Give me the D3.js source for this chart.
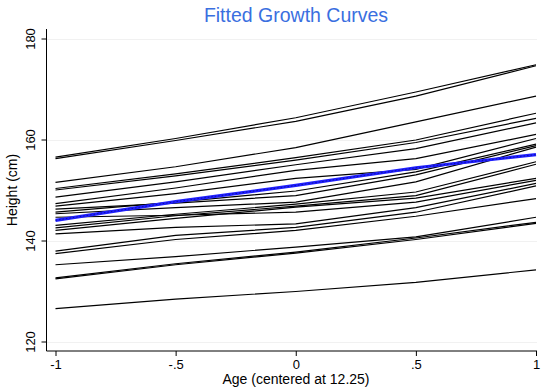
<!DOCTYPE html>
<html>
<head>
<meta charset="utf-8">
<script src="https://cdn.jsdelivr.net/npm/d3@7"></script>
<style>
  body { margin: 0; background: #fff; }
  svg { display: block; font-family: "Liberation Sans", Arial, sans-serif; }
</style>
</head>
<body>
<div id="chart-area"></div>
<script>
// ages (centered at 12.25) where each fitted curve is read
var ages = [-1, -0.5, 0, 0.5, 1];

var xTicks = [-1, -0.5, 0, 0.5, 1];
var xTickLabels = ["-1", "-.5", "0", ".5", "1"];
var yTicks = [120, 140, 160, 180];

// fitted height (cm) per child, one row per curve
var childHeights = [
  [156.5, 160.2, 164.3, 169.4, 174.8],
  [156.2, 159.8, 163.6, 168.6, 174.6],
  [151.5, 154.6, 158.4, 163.5, 168.6],
  [150.3, 153.2, 156.4, 159.9, 165.2],
  [150.0, 152.8, 155.9, 159.4, 164.2],
  [148.6, 151.6, 155.0, 158.2, 163.3],
  [147.3, 150.4, 153.9, 156.2, 161.0],
  [146.8, 149.3, 152.3, 154.1, 160.2],
  [145.6, 147.6, 149.8, 153.6, 159.1],
  [146.2, 147.4, 148.9, 153.0, 158.8],
  [145.3, 146.5, 147.6, 151.6, 158.5],
  [143.0, 145.2, 147.2, 149.6, 155.6],
  [142.5, 144.9, 146.8, 148.9, 155.1],
  [142.0, 144.4, 146.6, 148.4, 152.3],
  [144.6, 145.0, 145.6, 147.6, 151.9],
  [141.3, 142.6, 143.3, 146.5, 151.3],
  [137.9, 141.0, 142.6, 145.6, 150.8],
  [137.4, 140.2, 142.0, 144.8, 148.3],
  [135.2, 136.8, 138.7, 140.7, 144.6],
  [132.6, 135.4, 137.7, 140.5, 143.6],
  [132.4, 135.2, 137.5, 140.2, 143.4],
  [126.5, 128.4, 129.9, 131.7, 134.2]
];

// average curve
var meanHeights = [144.0, 147.7, 150.9, 154.4, 157.0];

var width = 542, height = 387;

var svg = d3.select("#chart-area")
  .append("svg")
    .attr("width", width)
    .attr("height", height);

var x = d3.scaleLinear().domain([-1, 1]).range([55.5, 536]);
var y = d3.scaleLinear().domain([120, 180]).range([341.5, 38.5]);

var axisLeftX = 46.5, axisBottomY = 351;

// faint grid
svg.append("g")
  .selectAll("line")
  .data(yTicks)
  .enter().append("line")
    .attr("x1", axisLeftX)
    .attr("x2", 537)
    .attr("y1", function(d){ return Math.round(y(d)) + 0.5 })
    .attr("y2", function(d){ return Math.round(y(d)) + 0.5 })
    .attr("stroke", "#f1f1f1")
    .attr("stroke-width", 1);

// Y axis
var yAxis = d3.axisLeft(y)
  .tickValues(yTicks)
  .tickSize(5)
  .tickFormat(d3.format("d"));

var yG = svg.append("g")
  .attr("transform", "translate(" + axisLeftX + ",0)")
  .call(yAxis);
yG.select(".domain").attr("d", "M0," + 29 + "V" + axisBottomY);
// rotated tick labels, baseline 12px left of the axis
yG.selectAll("text")
  .attr("x", 0)
  .attr("y", -12)
  .attr("dy", 0)
  .attr("transform", "rotate(-90)")
  .attr("text-anchor", "middle")
  .attr("font-size", "13px")
  .attr("fill", "#000");

// X axis
var xAxis = d3.axisBottom(x)
  .tickValues(xTicks)
  .tickSize(5)
  .tickPadding(4)
  .tickFormat(function(d, i){ return xTickLabels[i] });

var xG = svg.append("g")
  .attr("transform", "translate(0," + axisBottomY + ")")
  .call(xAxis);
xG.select(".domain").attr("d", "M" + axisLeftX + ",0H" + 537);
xG.selectAll("text")
  .attr("font-size", "13px")
  .attr("fill", "#000");

svg.selectAll(".domain, .tick line")
  .attr("stroke", "#000")
  .attr("stroke-width", 1);

// curves
var line = d3.line()
  .x(function(d, i){ return x(ages[i]) })
  .y(function(d){ return y(d) });

svg.append("g")
  .selectAll("path")
  .data(childHeights)
  .enter().append("path")
    .attr("d", line)
    .attr("fill", "none")
    .attr("stroke", "#000")
    .attr("stroke-width", 1.2);

svg.append("path")
  .attr("d", line(meanHeights))
  .attr("fill", "none")
  .attr("stroke", "#1f1fff")
  .attr("stroke-width", 3.2);

svg.append("path")
  .attr("d", line(meanHeights))
  .attr("fill", "none")
  .attr("stroke", "#1010a0")
  .attr("stroke-width", 1)
  .attr("stroke-dasharray", "1.5,2");

// title + axis titles
svg.append("text")
  .attr("x", 296)
  .attr("y", 22)
  .attr("text-anchor", "middle")
  .attr("font-size", "19.5px")
  .attr("fill", "#3a6fe0")
  .text("Fitted Growth Curves");

svg.append("text")
  .attr("transform", "translate(17," + 190 + ") rotate(-90)")
  .attr("text-anchor", "middle")
  .attr("font-size", "14px")
  .attr("fill", "#000")
  .text("Height (cm)");

svg.append("text")
  .attr("x", 296)
  .attr("y", 384)
  .attr("text-anchor", "middle")
  .attr("font-size", "14px")
  .attr("fill", "#000")
  .text("Age (centered at 12.25)");
</script>
</body>
</html>
